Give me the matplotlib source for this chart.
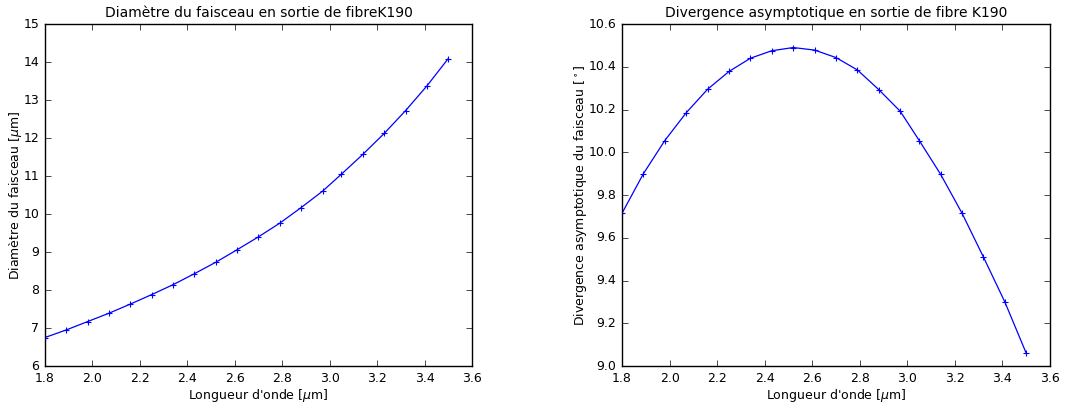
import numpy as np
import matplotlib
matplotlib.use('Agg')
import matplotlib.pyplot as plt

# longueurs d'onde (um)
lam = [1.80, 1.89, 1.98, 2.07, 2.16, 2.25, 2.34, 2.43, 2.52, 2.61,
       2.70, 2.79, 2.88, 2.97, 3.05, 3.14, 3.23, 3.32, 3.41, 3.50]

# diametre du faisceau (um)
diam = [6.75, 6.95, 7.17, 7.39, 7.63, 7.88, 8.14, 8.43, 8.73, 9.06,
        9.40, 9.76, 10.17, 10.60, 11.05, 11.57, 12.12, 12.72, 13.37, 14.09]

# divergence asymptotique (deg)
div = [9.715, 9.90, 10.055, 10.185, 10.295, 10.378, 10.44, 10.475, 10.49, 10.478,
       10.443, 10.385, 10.293, 10.192, 10.055, 9.897, 9.715, 9.51, 9.30, 9.06]

plt.style.use('classic')
plt.rcParams['font.size'] = 9
plt.rcParams['mathtext.fontset'] = 'dejavusans'

fig = plt.figure(figsize=(10.79, 4.03), dpi=100, facecolor='white')

ax1 = fig.add_axes([0.0417, 0.0918, 0.3957, 0.8486])
ax1.plot(lam, diam, 'b-+', markersize=5, markeredgewidth=0.8, linewidth=0.9)
ax1.set_xlim(1.8, 3.6)
ax1.set_ylim(6, 15)
ax1.set_xticks(np.arange(1.8, 3.61, 0.2))
ax1.set_title('Diamètre du faisceau en sortie de fibreK190', fontsize=10)
ax1.set_xlabel(r"Longueur d'onde [$\mu$m]", labelpad=2)
ax1.set_ylabel(r'Diamètre du faisceau [$\mu$m]', labelpad=0)

ax2 = fig.add_axes([0.5765, 0.0918, 0.3966, 0.8486])
ax2.plot(lam, div, 'b-+', markersize=5, markeredgewidth=0.8, linewidth=0.9)
ax2.set_xlim(1.8, 3.6)
ax2.set_ylim(9.0, 10.6)
ax2.set_xticks(np.arange(1.8, 3.61, 0.2))
ax2.set_yticks(np.arange(9.0, 10.61, 0.2))
ax2.set_title('Divergence asymptotique en sortie de fibre K190', fontsize=10)
ax2.set_xlabel(r"Longueur d'onde [$\mu$m]", labelpad=2)
ax2.set_ylabel(r'Divergence asymptotique du faisceau [$^\circ$]', labelpad=0)

fig.savefig('out.png', dpi=100, facecolor='white')
